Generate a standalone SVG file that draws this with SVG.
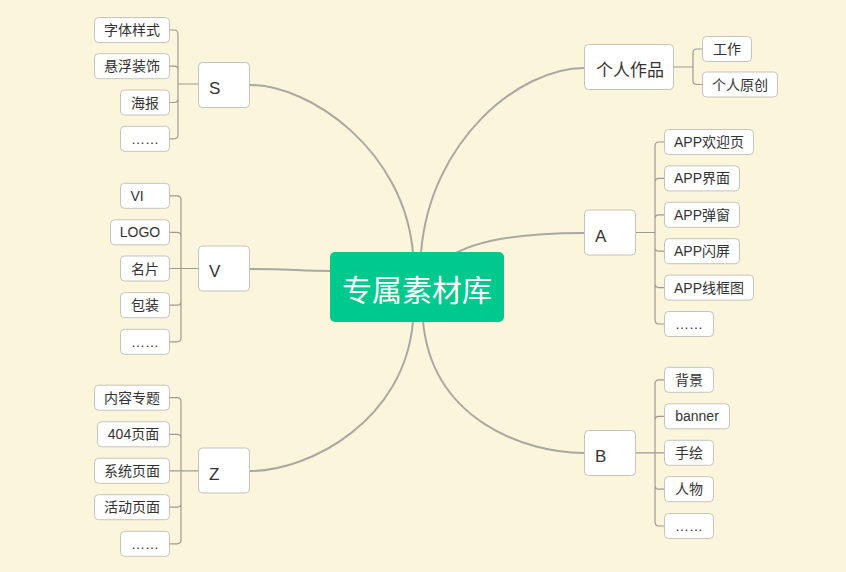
<svg xmlns="http://www.w3.org/2000/svg" width="846" height="572" viewBox="0 0 846 572">
<style>
.bg{fill:#fbf5dc}
.leaf rect,.mid rect{fill:#fff;stroke:#c6c3bc;stroke-width:1}
.leaf text{font-family:"Liberation Sans","Noto Sans CJK SC",sans-serif;font-size:14px;fill:#333;text-anchor:middle}
.mid text{font-family:"Liberation Sans","Noto Sans CJK SC",sans-serif;font-size:17px;fill:#333}
.main{fill:none;stroke:#aaa8a2;stroke-width:2}
.br{fill:none;stroke:#9e9b95;stroke-width:1.2}
</style>
<rect class="bg" x="0" y="0" width="846" height="572"/>
<g id="connectors">
<path class="main" d="M250,85 C310,85 404,150 413,253"/>
<path class="main" d="M584,68 C520,68 430,140 421,253"/>
<path class="main" d="M250,269 C290,269 300,271 331,271"/>
<path class="main" d="M584,233 C520,233 480,240 456,253"/>
<path class="main" d="M250,471 C310,471 405,420 413,321"/>
<path class="main" d="M584,453 C525,453 432,420 423,321"/>
<!-- S bracket -->
<path class="br" d="M178,84 H198 M178,34 V135 M169.5,30 H174 Q178,30 178,34 M169.5,66.2 H174 Q178,66.2 178,70 M169.5,102.5 H174 Q178,102.5 178,98.5 M169.5,138.8 H174 Q178,138.8 178,135"/>
<!-- V bracket -->
<path class="br" d="M169.5,268.5 H198 M181,199.8 V337.8 M169.5,195.8 H177 Q181,195.8 181,199.8 M169.5,232.3 H177 Q181,232.3 181,236.3 M169.5,305.2 H177 Q181,305.2 181,301.2 M169.5,341.8 H177 Q181,341.8 181,337.8"/>
<!-- Z bracket -->
<path class="br" d="M169.5,470.8 H198 M181,401.7 V539.8 M169.5,397.7 H177 Q181,397.7 181,401.7 M169.5,434.3 H177 Q181,434.3 181,438.3 M169.5,507.2 H177 Q181,507.2 181,503.2 M169.5,543.8 H177 Q181,543.8 181,539.8"/>
<!-- 个人作品 bracket -->
<path class="br" d="M673.5,67 H693 M693,53 V80.5 M702.5,49 H697 Q693,49 693,53 M702.5,84.5 H697 Q693,84.5 693,80.5"/>
<!-- A bracket -->
<path class="br" d="M635.5,232.5 H655 M655,146 V320 M664.5,142 H659 Q655,142 655,146 M664.5,178.4 H659 Q655,178.4 655,182.4 M664.5,214.8 H659 Q655,214.8 655,218.8 M664.5,251.2 H659 Q655,251.2 655,247.2 M664.5,287.6 H659 Q655,287.6 655,283.6 M664.5,324 H659 Q655,324 655,320"/>
<!-- B bracket -->
<path class="br" d="M635.5,452.8 H664.5 M655,383.8 V522 M664.5,379.8 H659 Q655,379.8 655,383.8 M664.5,416.3 H659 Q655,416.3 655,420.3 M664.5,489.2 H659 Q655,489.2 655,485.2 M664.5,526 H659 Q655,526 655,522"/>
</g>
<g id="center">
<rect x="330" y="252" width="174" height="70" rx="5" fill="#00c98d"/>
<text x="417" y="301" font-family="'Noto Sans CJK SC',sans-serif" font-size="30" fill="#fff" text-anchor="middle">专属素材库</text>
</g>
<g id="node-S" class="mid"><rect x="198.5" y="62.5" width="51" height="45" rx="4"/><text x="209" y="93.5">S</text></g>
<g id="node-V" class="mid"><rect x="198.5" y="246" width="51" height="45" rx="4"/><text x="209" y="277">V</text></g>
<g id="node-Z" class="mid"><rect x="198.5" y="448" width="51" height="45" rx="4"/><text x="209" y="479.5">Z</text></g>
<g id="node-works" class="mid"><rect x="584.5" y="44.5" width="89" height="45" rx="4"/><text x="596" y="75.5">个人作品</text></g>
<g id="node-A" class="mid"><rect x="584.5" y="210" width="51" height="45" rx="4"/><text x="595" y="241.5">A</text></g>
<g id="node-B" class="mid"><rect x="584.5" y="430.5" width="51" height="45" rx="4"/><text x="595" y="461.5">B</text></g>
<g id="s1" class="leaf"><rect x="94.5" y="17.5" width="75" height="25" rx="4"/><text x="132" y="35">字体样式</text></g>
<g id="s2" class="leaf"><rect x="94.5" y="53.7" width="75" height="25" rx="4"/><text x="132" y="71.2">悬浮装饰</text></g>
<g id="s3" class="leaf"><rect x="120.5" y="90" width="49" height="25" rx="4"/><text x="145" y="107.5">海报</text></g>
<g id="s4" class="leaf"><rect x="120.5" y="126.3" width="49" height="25" rx="4"/><text x="145" y="143.8">……</text></g>
<g id="v1" class="leaf"><rect x="120.5" y="183.3" width="49" height="25" rx="4"/><text x="137" y="200.8">VI</text></g>
<g id="v2" class="leaf"><rect x="110.5" y="219.8" width="59" height="25" rx="4"/><text x="140" y="237.3">LOGO</text></g>
<g id="v3" class="leaf"><rect x="120.5" y="256" width="49" height="25" rx="4"/><text x="145" y="273.5">名片</text></g>
<g id="v4" class="leaf"><rect x="120.5" y="292.7" width="49" height="25" rx="4"/><text x="145" y="310.2">包装</text></g>
<g id="v5" class="leaf"><rect x="120.5" y="329.3" width="49" height="25" rx="4"/><text x="145" y="346.8">……</text></g>
<g id="z1" class="leaf"><rect x="94.5" y="385.2" width="75" height="25" rx="4"/><text x="132" y="402.7">内容专题</text></g>
<g id="z2" class="leaf"><rect x="97.5" y="421.8" width="72" height="25" rx="4"/><text x="133.5" y="439.3">404页面</text></g>
<g id="z3" class="leaf"><rect x="94.5" y="458.3" width="75" height="25" rx="4"/><text x="132" y="475.8">系统页面</text></g>
<g id="z4" class="leaf"><rect x="94.5" y="494.7" width="75" height="25" rx="4"/><text x="132" y="512.2">活动页面</text></g>
<g id="z5" class="leaf"><rect x="120.5" y="531.3" width="49" height="25" rx="4"/><text x="145" y="548.8">……</text></g>
<g id="w1" class="leaf"><rect x="702.5" y="36.5" width="49" height="25" rx="4"/><text x="727" y="54">工作</text></g>
<g id="w2" class="leaf"><rect x="702.5" y="72" width="75" height="25" rx="4"/><text x="740" y="89.5">个人原创</text></g>
<g id="a1" class="leaf"><rect x="664.5" y="129.5" width="89" height="25" rx="4"/><text x="709" y="147">APP欢迎页</text></g>
<g id="a2" class="leaf"><rect x="664.5" y="165.9" width="75" height="25" rx="4"/><text x="702" y="183.4">APP界面</text></g>
<g id="a3" class="leaf"><rect x="664.5" y="202.3" width="75" height="25" rx="4"/><text x="702" y="219.8">APP弹窗</text></g>
<g id="a4" class="leaf"><rect x="664.5" y="238.7" width="75" height="25" rx="4"/><text x="702" y="256.2">APP闪屏</text></g>
<g id="a5" class="leaf"><rect x="664.5" y="275.1" width="89" height="25" rx="4"/><text x="709" y="292.6">APP线框图</text></g>
<g id="a6" class="leaf"><rect x="664.5" y="311.5" width="49" height="25" rx="4"/><text x="689" y="329">……</text></g>
<g id="b1" class="leaf"><rect x="664.5" y="367.3" width="49" height="25" rx="4"/><text x="689" y="384.8">背景</text></g>
<g id="b2" class="leaf"><rect x="664.5" y="403.8" width="65" height="25" rx="4"/><text x="697" y="421.3">banner</text></g>
<g id="b3" class="leaf"><rect x="664.5" y="440.3" width="49" height="25" rx="4"/><text x="689" y="457.8">手绘</text></g>
<g id="b4" class="leaf"><rect x="664.5" y="476.7" width="49" height="25" rx="4"/><text x="689" y="494.2">人物</text></g>
<g id="b5" class="leaf"><rect x="664.5" y="513.5" width="49" height="25" rx="4"/><text x="689" y="531">……</text></g>
</svg>
